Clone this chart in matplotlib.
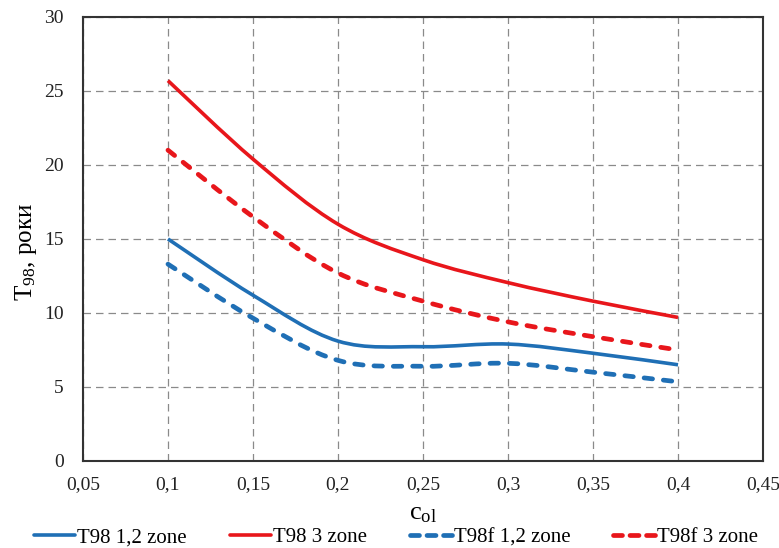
import matplotlib
matplotlib.use("Agg")
import matplotlib.pyplot as plt
from matplotlib.path import Path
from matplotlib.patches import PathPatch
from matplotlib.lines import Line2D
from matplotlib.ticker import FuncFormatter, MultipleLocator

plt.rcParams['font.family'] = ['Liberation Serif', 'DejaVu Serif']
plt.rcParams['mathtext.fontset'] = 'custom'
plt.rcParams['mathtext.rm'] = 'Liberation Serif'
plt.rcParams['mathtext.it'] = 'Liberation Serif'

c_ol = [0.10, 0.15, 0.20, 0.25, 0.30, 0.35, 0.40]
t98_12 = [15.0, 11.2, 8.1, 7.72, 7.9, 7.28, 6.5]
t98_3 = [25.7, 20.4, 16.0, 13.6, 12.05, 10.8, 9.7]
t98f_12 = [13.3, 9.65, 6.8, 6.4, 6.6, 6.0, 5.35]
t98f_3 = [21.0, 16.5, 12.7, 10.8, 9.4, 8.4, 7.5]

series = [
    ("T98 1,2 zone", t98_12, "#1f6fb5", "-"),
    ("T98 3 zone", t98_3, "#e8161b", "-"),
    ("T98f 1,2 zone", t98f_12, "#1f6fb5", "--"),
    ("T98f 3 zone", t98f_3, "#e8161b", "--"),
]


def smooth_path(xs, ys):
    pts = list(zip(xs, ys))
    n = len(pts)
    verts = [pts[0]]
    codes = [Path.MOVETO]
    for i in range(n - 1):
        p0 = pts[i - 1] if i > 0 else pts[i]
        p1 = pts[i]
        p2 = pts[i + 1]
        p3 = pts[i + 2] if i + 2 < n else pts[i + 1]
        c1 = (p1[0] + (p2[0] - p0[0]) / 6, p1[1] + (p2[1] - p0[1]) / 6)
        c2 = (p2[0] - (p3[0] - p1[0]) / 6, p2[1] - (p3[1] - p1[1]) / 6)
        verts += [c1, c2, p2]
        codes += [Path.CURVE4] * 3
    return Path(verts, codes)


fig = plt.figure(figsize=(7.79, 5.48), dpi=100)
ax = fig.add_axes([0.1065, 0.1588, 0.873, 0.8102])

handles = []
for label, ys, color, ls in series:
    if ls == "-":
        lw = 2.6
        patch = PathPatch(smooth_path(c_ol, ys), facecolor='none', edgecolor=color,
                          lw=lw, capstyle='butt', joinstyle='round', zorder=3)
        h = Line2D([], [], color=color, lw=lw, solid_capstyle='round')
    else:
        lw = 3.4
        patch = PathPatch(smooth_path(c_ol, ys), facecolor='none', edgecolor=color,
                          lw=lw, capstyle='round', joinstyle='round', zorder=3,
                          linestyle=(0, (1.8, 2.3)))
        h = Line2D([], [], color=color, lw=lw, linestyle=(0, (1.9, 1.6)),
                   dash_capstyle='round')
    ax.add_patch(patch)
    handles.append((h, label))

ax.set_xlim(0.05, 0.45)
ax.set_ylim(0, 30)
ax.xaxis.set_major_locator(MultipleLocator(0.05))
ax.yaxis.set_major_locator(MultipleLocator(5))
ax.xaxis.set_major_formatter(FuncFormatter(lambda v, p: ("%g" % round(v, 2)).replace('.', ',')))
ax.yaxis.set_major_formatter(FuncFormatter(lambda v, p: "%d" % round(v)))
ax.tick_params(length=0, labelsize=14, pad=11, colors='#222222')
ax.tick_params(axis='y', pad=14)
ax.grid(True, color='#8a8a8a', linestyle=(0, (6, 4)), linewidth=0.9)
for s in ax.spines.values():
    s.set_color('#333333')
    s.set_linewidth(1.5)

ax.set_xlabel(r"c$_{\mathrm{ol}}$", fontsize=19, labelpad=7)
ax.set_ylabel(r"T$_{98}$, роки", fontsize=18, labelpad=8)
ax.yaxis.set_label_coords(-0.064, 0.47)

leg = fig.legend([h for h, _ in handles], [l for _, l in handles], loc='center',
                 bbox_to_anchor=(0.508, 0.019), ncol=4, frameon=False, fontsize=15,
                 handlelength=2.0, handletextpad=0.1, columnspacing=2.05,
                 borderpad=0.2)

fig.savefig("out.png", dpi=100)
